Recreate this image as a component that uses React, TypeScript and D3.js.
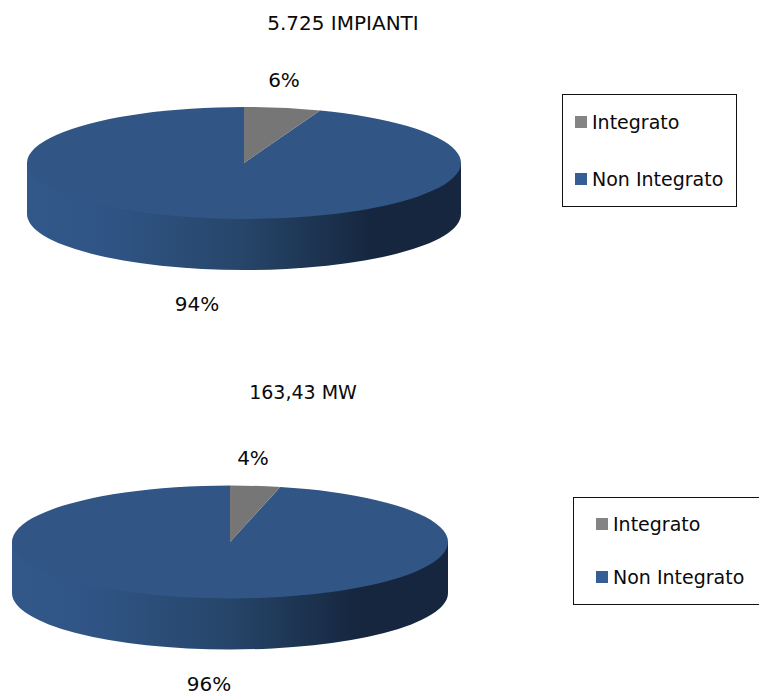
import * as d3 from "d3";

// Chart data (slices, labels are the rounded values)
const categories = ["Integrato", "Non Integrato"];
const plantShares = [5.7, 94.3];
const powerShares = [3.7, 96.3];
const plantTitle = "5.725 IMPIANTI";
const powerTitle = "163,43 MW";

// Palette
const SLICE_COLORS = ["#767676", "#315686"];
const SWATCH_COLORS = ["#848484", "#355f94"];
const TEXT_FILL = "#0a0a0a";
const FONT = "'DejaVu Sans', sans-serif";
const FONT_SIZE = 20;
const LEGEND_FONT_SIZE = 19;

const WIDTH = 759;
const HEIGHT = 695;
const DEPTH = 51;

interface PieProps {
  id: string;
  values: number[];
  title: string;
  titleSize: number;
  cx: number;
  cy: number;
  rx: number;
  ry: number;
  titlePos: [number, number];
  labelPos: [number, number][];
}

function Pie3D({ id, values, title, titleSize, cx, cy, rx, ry, titlePos, labelPos }: PieProps) {
  // slices are computed on a circle, then squashed into an ellipse
  const slices = d3.pie<number>().sort(null)(values);
  const arc = d3.arc<d3.PieArcDatum<number>>().innerRadius(0).outerRadius(rx);

  // front wall: runs up behind the top face so no seam shows along the rim
  const wall = d3.path();
  wall.moveTo(cx - rx, cy);
  wall.lineTo(cx - rx, cy + DEPTH);
  const sidePath = `${wall.toString()}A${rx},${ry} 0 0 0 ${cx + rx},${cy + DEPTH}L${cx + rx},${cy}Z`;

  return (
    <g>
      <defs>
        <linearGradient id={id} gradientUnits="userSpaceOnUse" x1={cx - rx} x2={cx + rx} y1={0} y2={0}>
          <stop offset="0" stopColor="#32588a" />
          <stop offset="0.2" stopColor="#2f5484" />
          <stop offset="0.5" stopColor="#264569" />
          <stop offset="0.8" stopColor="#15263e" />
          <stop offset="1" stopColor="#15263e" />
        </linearGradient>
      </defs>
      <path d={sidePath} fill={`url(#${id})`} />
      <g transform={`translate(${cx},${cy}) scale(1,${ry / rx})`}>
        {/* big slice first so the grey wedge stays on top */}
        {slices
          .slice()
          .reverse()
          .map((s) => (
            <path key={s.index} d={arc(s) ?? ""} fill={SLICE_COLORS[s.index]} />
          ))}
      </g>
      <text x={titlePos[0]} y={titlePos[1]} textAnchor="middle" fontFamily={FONT} fontSize={titleSize} fill={TEXT_FILL}>
        {title}
      </text>
      {values.map((v, i) => (
        <text key={i} x={labelPos[i][0]} y={labelPos[i][1]} textAnchor="middle" fontFamily={FONT} fontSize={FONT_SIZE} fill={TEXT_FILL}>
          {Math.round(v)}%
        </text>
      ))}
    </g>
  );
}

interface LegendProps {
  x: number;
  y: number;
  w: number;
  h: number;
  pad: number;
  rows: number[];
}

function Legend({ x, y, w, h, pad, rows }: LegendProps) {
  return (
    <g>
      <rect x={x + 0.5} y={y + 0.5} width={w} height={h} fill="white" stroke="#111111" strokeWidth={1} />
      {categories.map((c, i) => (
        <g key={c}>
          <rect x={x + pad} y={rows[i] - 6} width={12} height={12} fill={SWATCH_COLORS[i]} />
          <text x={x + pad + 17} y={rows[i]} dy="0.35em" fontFamily={FONT} fontSize={LEGEND_FONT_SIZE} fill={TEXT_FILL}>
            {c}
          </text>
        </g>
      ))}
    </g>
  );
}

export default function App() {
  return (
    <svg width={WIDTH} height={HEIGHT} style={{ position: "absolute", left: 0, top: 0 }}>
      <Pie3D
        id="wall-plants"
        values={plantShares}
        title={plantTitle}
        titleSize={FONT_SIZE}
        cx={244}
        cy={163}
        rx={217}
        ry={56}
        titlePos={[343, 30]}
        labelPos={[[284, 87], [197, 311]]}
      />
      <Legend x={562} y={94} w={174} h={112} pad={13} rows={[122, 179]} />
      <Pie3D
        id="wall-power"
        values={powerShares}
        title={powerTitle}
        titleSize={19}
        cx={230}
        cy={542}
        rx={218}
        ry={56.5}
        titlePos={[303, 399]}
        labelPos={[[253, 465], [209, 691]]}
      />
      <Legend x={573} y={497} w={190} h={107} pad={23} rows={[524, 577]} />
    </svg>
  );
}
